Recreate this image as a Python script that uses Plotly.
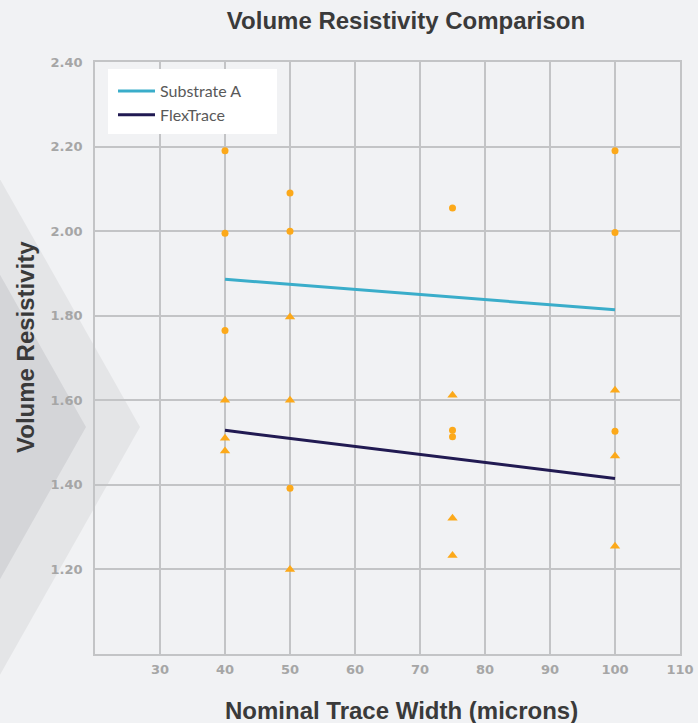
import plotly.graph_objects as go

# ---- data ----
circle_x = [40, 40, 40, 50, 50, 50, 75, 75, 75, 100, 100, 100]
circle_y = [2.19, 1.995, 1.765, 2.09, 2.00, 1.392, 2.055, 1.529, 1.514, 2.19, 1.997, 1.527]
tri_x = [40, 40, 40, 50, 50, 50, 75, 75, 75, 100, 100, 100]
tri_y = [1.60, 1.51, 1.48, 1.797, 1.60, 1.20, 1.612, 1.321, 1.233, 1.624, 1.468, 1.255]
line_x = [40, 100]
substrate_a_y = [1.886, 1.814]
flextrace_y = [1.529, 1.415]
x_ticks = [30, 40, 50, 60, 70, 80, 90, 100, 110]
y_ticks = [1.2, 1.4, 1.6, 1.8, 2.0, 2.2, 2.4]

W, H = 698, 723
L, R, T, B = 95, 18, 62, 69
pw, ph = W - L - R, H - T - B

def px2paper(x, y):
    return (x - L) / pw, (H - B - y) / ph

def poly(points):
    pts = [px2paper(x, y) for x, y in points]
    return "M " + " L ".join(f"{a:.4f},{b:.4f}" for a, b in pts) + " Z"

fig = go.Figure()

fig.add_trace(go.Scatter(x=line_x, y=substrate_a_y, mode="lines", name="Substrate A",
                         line=dict(color="#3AADCA", width=3)))
fig.add_trace(go.Scatter(x=line_x, y=flextrace_y, mode="lines", name="FlexTrace",
                         line=dict(color="#211A52", width=3)))
fig.add_trace(go.Scatter(x=circle_x, y=circle_y, mode="markers", showlegend=False,
                         marker=dict(symbol="circle", size=7, color="#FCA91A")))
fig.add_trace(go.Scatter(x=tri_x, y=tri_y, mode="markers", showlegend=False,
                         marker=dict(symbol="triangle-up", size=9, color="#FCA91A")))

grid = "#C3C4C6"
tickfont = dict(family="DejaVu Sans", size=13, color="#A6A6A6")

# chevrons (decoration)
slope = 1.77
light = [(-6, 427 - 146 * slope), (140, 427), (-6, 427 + 146 * slope)]
dark = [(-6, 427 - 92 * slope), (86, 427), (-6, 427 + 92 * slope)]

lx0, ly0 = px2paper(108, 69)
lx1, ly1 = px2paper(277, 134)

fig.update_layout(
    width=W, height=H,
    margin=dict(l=L, r=R, t=T, b=B, autoexpand=False),
    paper_bgcolor="#F1F2F4",
    plot_bgcolor="rgba(0,0,0,0)",
    title=dict(text="<b>Volume Resistivity Comparison</b>", x=406 / W, xanchor="center",
               y=1 - 21 / H, yanchor="middle", xref="container", yref="container",
               font=dict(family="Liberation Sans", size=24, color="#3A3A3A")),
    xaxis=dict(range=[20, 110], tickvals=x_ticks, ticktext=[f"<b>{v}</b>" for v in x_ticks],
               showgrid=True, gridcolor=grid, gridwidth=1.5, zeroline=False,
               showline=True, linecolor=grid, linewidth=1.5, mirror=True,
               ticks="", tickfont=tickfont, ticklabelstandoff=3),
    yaxis=dict(range=[1.0, 2.4], tickvals=y_ticks, ticktext=[f"<b>{v:.2f}</b>" for v in y_ticks],
               showgrid=True, gridcolor=grid, gridwidth=1.5, zeroline=False,
               showline=True, linecolor=grid, linewidth=1.5, mirror=True,
               ticks="", tickfont=tickfont, ticklabelstandoff=8),
    legend=dict(x=px2paper(113, 0)[0], y=px2paper(0, 74)[1], xanchor="left", yanchor="top",
                bgcolor="rgba(0,0,0,0)", borderwidth=0, itemwidth=37,
                font=dict(family="Lato", size=16, color="#595959")),
    shapes=[
        dict(type="path", path=poly(light), xref="paper", yref="paper",
             fillcolor="#E4E5E7", line=dict(width=0), layer="below"),
        dict(type="path", path=poly(dark), xref="paper", yref="paper",
             fillcolor="#D4D5D8", line=dict(width=0), layer="below"),
        dict(type="rect", x0=lx0, x1=lx1, y0=ly1, y1=ly0, xref="paper", yref="paper",
             fillcolor="#FFFFFF", line=dict(width=0), layer="above"),
    ],
    annotations=[
        dict(text="<b>Nominal Trace Width (microns)</b>", xref="paper", yref="paper",
             x=px2paper(401, 0)[0], y=px2paper(0, 710)[1], showarrow=False,
             xanchor="center", yanchor="middle",
             font=dict(family="Liberation Sans", size=24, color="#3A3A3A")),
        dict(text="<b>Volume Resistivity</b>", xref="paper", yref="paper",
             x=px2paper(25, 0)[0], y=px2paper(0, 347)[1], showarrow=False, textangle=-90,
             xanchor="center", yanchor="middle",
             font=dict(family="Liberation Sans", size=24, color="#3A3A3A")),
    ],
)

fig.write_html("out.html", config={"displayModeBar": False},
               post_script="document.body.style.margin='0';")
